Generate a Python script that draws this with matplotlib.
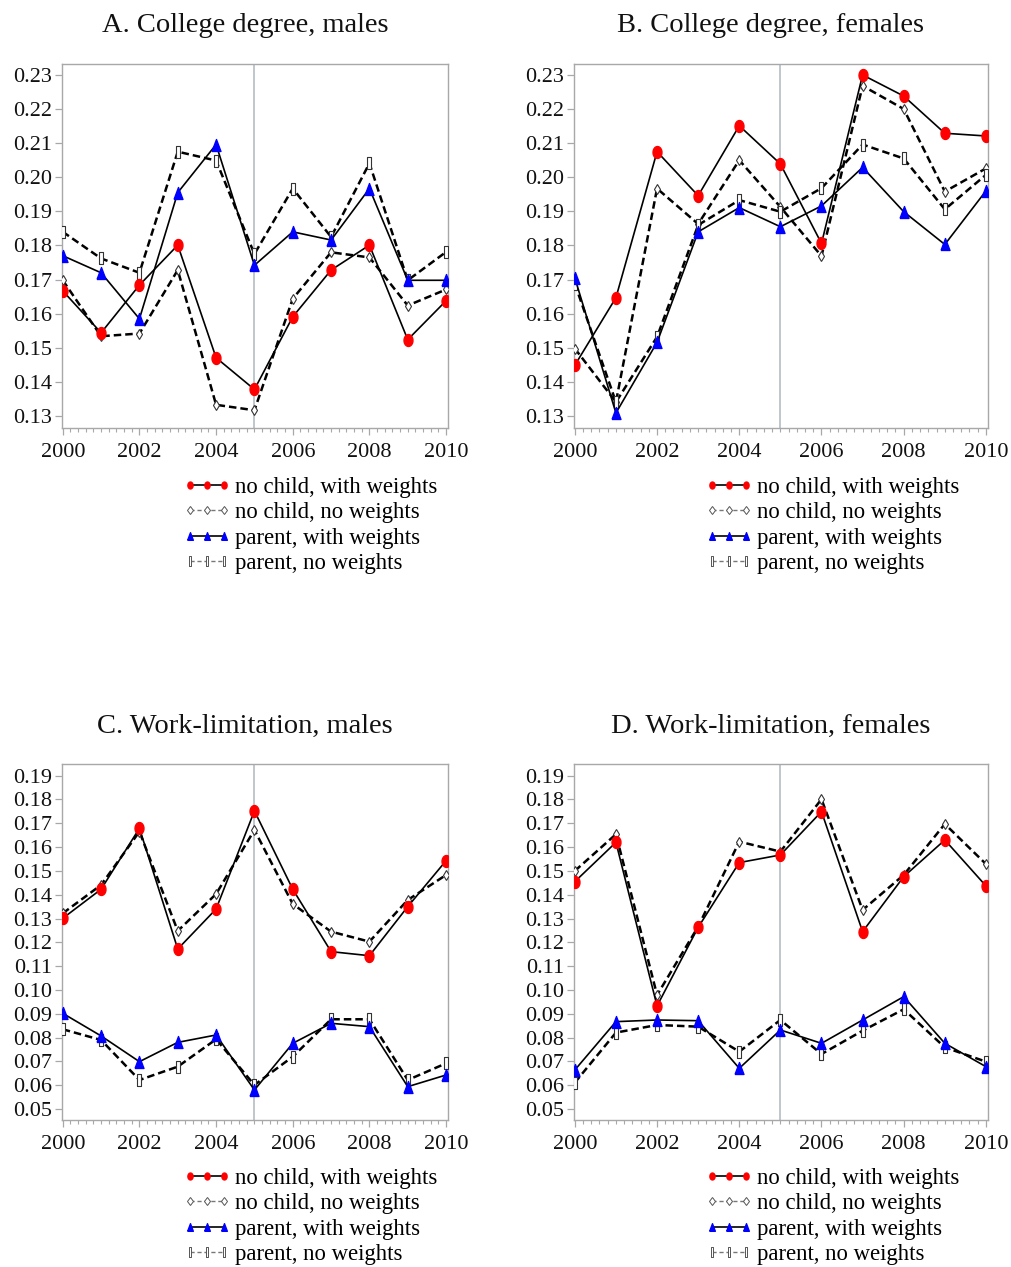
import numpy as np
import matplotlib
matplotlib.use("Agg")
import matplotlib.pyplot as plt
from matplotlib.lines import Line2D
from matplotlib.ticker import MultipleLocator, FormatStrFormatter

plt.rcParams['font.family'] = ['Liberation Serif', 'DejaVu Serif']

years = list(range(2000, 2011))

# A. College degree, males
a_nochild_w = [0.1667, 0.1544, 0.1684, 0.1801, 0.1471, 0.1378, 0.1591, 0.1728, 0.1801, 0.1524, 0.1638]
a_nochild_nw = [0.1698, 0.1534, 0.1542, 0.1728, 0.1333, 0.1317, 0.1644, 0.1780, 0.1765, 0.1624, 0.1671]
a_parent_w = [0.1770, 0.1720, 0.1585, 0.1955, 0.2096, 0.1742, 0.1840, 0.1816, 0.1967, 0.1698, 0.1698]
a_parent_nw = [0.1840, 0.1762, 0.1720, 0.2075, 0.2049, 0.1775, 0.1967, 0.1825, 0.2041, 0.1698, 0.1781]

# B. College degree, females
b_nochild_w = [0.1449, 0.1647, 0.2075, 0.1946, 0.2151, 0.2039, 0.1806, 0.2300, 0.2238, 0.2129, 0.2121]
b_nochild_nw = [0.1498, 0.1341, 0.1967, 0.1863, 0.2050, 0.1913, 0.1769, 0.2268, 0.2200, 0.1958, 0.2026]
b_parent_w = [0.1705, 0.1309, 0.1516, 0.1840, 0.1911, 0.1855, 0.1916, 0.2029, 0.1899, 0.1803, 0.1960]
b_parent_nw = [0.1688, 0.1341, 0.1532, 0.1860, 0.1933, 0.1899, 0.1968, 0.2096, 0.2055, 0.1906, 0.2007]

# C. Work-limitation, males
c_nochild_w = [0.1301, 0.1423, 0.1679, 0.1172, 0.1340, 0.1752, 0.1423, 0.1161, 0.1144, 0.1350, 0.1543]
c_nochild_nw = [0.1322, 0.1441, 0.1665, 0.1248, 0.1403, 0.1672, 0.1361, 0.1245, 0.1203, 0.1378, 0.1483]
c_parent_w = [0.0902, 0.0807, 0.0699, 0.0780, 0.0811, 0.0580, 0.0776, 0.0860, 0.0846, 0.0594, 0.0643]
c_parent_nw = [0.0835, 0.0790, 0.0622, 0.0678, 0.0793, 0.0601, 0.0720, 0.0877, 0.0877, 0.0622, 0.0692]

# D. Work-limitation, females
d_nochild_w = [0.1455, 0.1620, 0.0933, 0.1263, 0.1535, 0.1567, 0.1749, 0.1245, 0.1476, 0.1630, 0.1437]
d_nochild_nw = [0.1500, 0.1654, 0.0979, 0.1266, 0.1623, 0.1581, 0.1801, 0.1336, 0.1483, 0.1697, 0.1529]
d_parent_w = [0.0664, 0.0867, 0.0874, 0.0871, 0.0671, 0.0832, 0.0776, 0.0874, 0.0972, 0.0776, 0.0678]
d_parent_nw = [0.0611, 0.0821, 0.0853, 0.0846, 0.0741, 0.0874, 0.0731, 0.0829, 0.0919, 0.0759, 0.0699]

titles = ["A. College degree, males", "B. College degree, females",
          "C. Work-limitation, males", "D. Work-limitation, females"]
labels = ["no child, with weights", "no child, no weights",
          "parent, with weights", "parent, no weights"]

# custom marker shapes: tall ellipse, tall triangle, narrow box
t = np.linspace(0, 2 * np.pi, 40)
ellipse = list(zip(0.75 * np.cos(t), np.sin(t)))
tri = [(-0.75, -1), (0.75, -1), (0, 1), (-0.75, -1)]
box = [(-0.3, -1), (0.3, -1), (0.3, 1), (-0.3, 1), (-0.3, -1)]

styles = [
    dict(color='black', lw=1.2, ls='-', marker=ellipse, ms=8.6, mfc='#ff0000', mec='#ff0000', zorder=5),
    dict(color='black', lw=1.8, ls=(0, (3, 1.6)), marker='d', ms=5.5, mfc='white', mec='#333333', mew=0.8, zorder=3),
    dict(color='black', lw=1.2, ls='-', marker=tri, ms=8.6, mfc='#0000ff', mec='#0000ff', zorder=4),
    dict(color='black', lw=1.8, ls=(0, (3, 1.6)), marker=box, ms=9, mfc='white', mec='#333333', mew=0.8, zorder=3),
]
leg_styles = [
    dict(color='black', lw=1.2, ls='-', marker=ellipse, ms=5, mfc='#ff0000', mec='#ff0000'),
    dict(color='#777777', lw=1.0, ls=(0, (3, 2)), marker='d', ms=4.5, mfc='white', mec='#555555', mew=0.7),
    dict(color='black', lw=1.2, ls='-', marker=tri, ms=5.5, mfc='#0000ff', mec='#0000ff'),
    dict(color='#777777', lw=1.0, ls=(0, (3, 2)), marker=box, ms=7, mfc='white', mec='#555555', mew=0.7),
]

panels = [
    ([a_nochild_w, a_nochild_nw, a_parent_w, a_parent_nw], (0.1265, 0.2332), 0.13, 0.23),
    ([b_nochild_w, b_nochild_nw, b_parent_w, b_parent_nw], (0.1265, 0.2332), 0.13, 0.23),
    ([c_nochild_w, c_nochild_nw, c_parent_w, c_parent_nw], (0.0454, 0.1949), 0.05, 0.19),
    ([d_nochild_w, d_nochild_nw, d_parent_w, d_parent_nw], (0.0454, 0.1949), 0.05, 0.19),
]

W, H = 1011, 1267
fig = plt.figure(figsize=(W / 100, H / 100), dpi=100)

# axes boxes in pixels: left, top, right, bottom
boxes = [(62, 64, 448, 428), (574, 64, 988, 428),
         (62, 764, 448, 1120), (574, 764, 988, 1120)]
title_y = [25, 25, 726, 726]
legend_x = [183, 705, 183, 705]
legend_y = [477, 477, 1168, 1168]

spine_col = '#a8a8a8'

for i, (series, ylim, ylo, yhi) in enumerate(panels):
    l, tp, r, b = boxes[i]
    ax = fig.add_axes([l / W, 1 - b / H, (r - l) / W, (b - tp) / H])
    ax.axvline(2005, color='#b4bcc4', lw=1.2, zorder=1)
    for vals, st in zip(series, styles):
        ax.plot(years, vals, **st)
    ax.set_xlim(1999.98, 2010.05)
    ax.set_ylim(*ylim)
    ax.set_yticks(np.round(np.arange(ylo, yhi + 0.001, 0.01), 2))
    ax.yaxis.set_major_formatter(FormatStrFormatter('%.2f'))
    ax.set_xticks(range(2000, 2011, 2))
    ax.xaxis.set_minor_locator(MultipleLocator(0.2))
    for s in ax.spines.values():
        s.set_color(spine_col)
        s.set_linewidth(1.0)
    ax.tick_params(axis='both', which='major', direction='out', length=5, width=0.9,
                   color=spine_col, labelsize=16, labelcolor='#111111', pad=2)
    ax.tick_params(axis='x', which='minor', direction='out', length=3, width=0.8, color=spine_col)
    ax.tick_params(axis='x', which='major', pad=6)

    fig.text((l + r) / 2 / W - 0.01, 1 - title_y[i] / H, titles[i], ha='center', va='center',
             fontsize=20.5, color='#111111')

    handles = [Line2D([], [], **st) for st in leg_styles]
    ax.legend(handles, labels, loc='upper left',
              bbox_to_anchor=(legend_x[i] / W, 1 - legend_y[i] / H),
              bbox_transform=fig.transFigure, frameon=False, fontsize=16.4,
              numpoints=3, handlelength=2.1, handletextpad=0.2,
              borderpad=0, borderaxespad=0, labelspacing=0.19)

fig.savefig("out.png", dpi=100, facecolor='white')
